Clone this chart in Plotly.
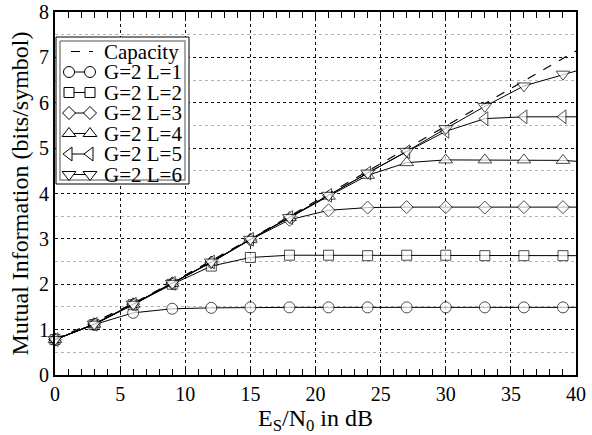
import plotly.graph_objects as go

# ---------------- data ----------------
snr_db = [0, 3, 6, 9, 12, 15, 18, 21, 24, 27, 30, 33, 36, 39, 40]
capacity = [0.79, 1.16, 1.58, 2.04, 2.52, 3.00, 3.50, 3.99, 4.49, 4.99, 5.48, 5.98, 6.48, 6.98, 7.14]
mi_L1 = [0.78, 1.11, 1.37, 1.46, 1.48, 1.49, 1.49, 1.49, 1.49, 1.49, 1.49, 1.49, 1.49, 1.49, 1.49]
mi_L2 = [0.78, 1.11, 1.55, 2.00, 2.40, 2.59, 2.64, 2.64, 2.63, 2.64, 2.64, 2.63, 2.63, 2.63, 2.63]
mi_L3 = [0.78, 1.12, 1.56, 2.02, 2.48, 2.98, 3.42, 3.63, 3.69, 3.70, 3.70, 3.69, 3.70, 3.70, 3.70]
mi_L4 = [0.78, 1.12, 1.56, 2.02, 2.49, 2.99, 3.47, 3.94, 4.40, 4.68, 4.74, 4.74, 4.74, 4.73, 4.71]
mi_L5 = [0.78, 1.12, 1.56, 2.02, 2.49, 2.99, 3.47, 3.96, 4.45, 4.92, 5.37, 5.65, 5.69, 5.69, 5.69]
mi_L6 = [0.78, 1.12, 1.56, 2.02, 2.49, 2.99, 3.47, 3.96, 4.45, 4.93, 5.43, 5.92, 6.37, 6.63, 6.70]

series_names = ["G=2 L=1", "G=2 L=2", "G=2 L=3", "G=2 L=4", "G=2 L=5", "G=2 L=6"]
series_values = [mi_L1, mi_L2, mi_L3, mi_L4, mi_L5, mi_L6]
symbols = ["circle", "square", "diamond", "triangle-up", "triangle-left", "triangle-down"]
sym_sizes = [11, 10, 10, 12, 12, 12]

x_ticks = [0, 5, 10, 15, 20, 25, 30, 35, 40]
y_ticks = [0, 1, 2, 3, 4, 5, 6, 7, 8]

FONT = "Liberation Serif, Times New Roman, serif"

fig = go.Figure()

fig.add_trace(go.Scatter(x=snr_db, y=capacity, mode="lines",
                         line=dict(color="black", width=1.2, dash="dash"),
                         showlegend=False, name="Capacity"))

# marker on every point except the final 40 dB sample
for name, vals, sym, sz in zip(series_names, series_values, symbols, sym_sizes):
    sizes = [sz] * (len(snr_db) - 1) + [0]
    fig.add_trace(go.Scatter(
        x=snr_db, y=vals, mode="lines+markers", name=name, showlegend=False,
        line=dict(color="black", width=1),
        marker=dict(symbol=sym, size=sizes, color="white",
                    line=dict(color="black", width=1)),
        cliponaxis=False))

# ---------------- manual legend on an overlay pixel axis ----------------
L_x0, L_x1, L_y0, L_y1 = 56, 189, 37, 184
fig.add_trace(go.Scatter(x=[L_x0, L_x1, L_x1, L_x0, L_x0], y=[L_y0, L_y0, L_y1, L_y1, L_y0],
                         mode="lines", fill="toself", fillcolor="white",
                         line=dict(color="black", width=1),
                         xaxis="x2", yaxis="y2", showlegend=False, hoverinfo="skip"))
fig.add_trace(go.Scatter(x=[L_x0 + 4, L_x1 - 4, L_x1 - 4, L_x0 + 4, L_x0 + 4],
                         y=[L_y0 + 4, L_y0 + 4, L_y1 - 4, L_y1 - 4, L_y0 + 4],
                         mode="lines", line=dict(color="#8a8a8a", width=1.5),
                         xaxis="x2", yaxis="y2", showlegend=False, hoverinfo="skip"))

row_y = [51.5, 72, 92.5, 113, 133.5, 154, 174.5]
legend_labels = ["Capacity"] + series_names
fig.add_trace(go.Scatter(x=[71, 93], y=[row_y[0], row_y[0]], mode="lines",
                         line=dict(color="black", width=1.2, dash="dash"),
                         xaxis="x2", yaxis="y2", showlegend=False, hoverinfo="skip"))
for i, (sym, sz) in enumerate(zip(symbols, sym_sizes)):
    yy = row_y[i + 1]
    fig.add_trace(go.Scatter(x=[69, 90], y=[yy, yy], mode="lines+markers",
                             line=dict(color="black", width=1),
                             marker=dict(symbol=sym, size=sz, color="white",
                                         line=dict(color="black", width=1)),
                             xaxis="x2", yaxis="y2", showlegend=False, hoverinfo="skip",
                             cliponaxis=False))
annotations = []
for yy, lab in zip(row_y, legend_labels):
    annotations.append(dict(x=102, y=yy, xref="x2", yref="y2", text=lab, showarrow=False,
                            xanchor="left", yanchor="middle",
                            font=dict(family=FONT, size=21, color="black")))

fig.update_layout(
    width=592, height=435,
    margin=dict(l=55, r=16, t=12, b=60),
    paper_bgcolor="white", plot_bgcolor="white",
    font=dict(family=FONT, size=20, color="black"),
    showlegend=False,
    annotations=annotations,
    xaxis=dict(range=[0, 40], tickvals=x_ticks, ticktext=[str(v) for v in x_ticks],
               showline=True, linecolor="black", linewidth=2, mirror="ticks",
               ticks="inside", ticklen=6, tickcolor="black", tickwidth=1,
               showgrid=True, gridcolor="#111", griddash="dot", gridwidth=1,
               zeroline=False, automargin=False,
               minor=dict(dtick=1, ticks="inside", ticklen=6, tickcolor="black", showgrid=False),
               title=dict(text="E<sub>S</sub>/N<sub>0</sub> in dB",
                          font=dict(family=FONT, size=24), standoff=2),
               tickfont=dict(family=FONT, size=20)),
    yaxis=dict(range=[0, 8], tickvals=y_ticks, ticktext=[str(v) for v in y_ticks],
               showline=True, linecolor="black", linewidth=2, mirror=True,
               ticks="", showgrid=True, gridcolor="#111", griddash="dot", gridwidth=1,
               zeroline=False, automargin=False,
               minor=dict(dtick=0.5, showgrid=True, gridcolor="#b5b5b5", griddash="dot", gridwidth=1),
               title=dict(text="Mutual Information (bits/symbol)",
                          font=dict(family=FONT, size=24), standoff=4),
               tickfont=dict(family=FONT, size=20)),
    xaxis2=dict(range=[55, 576], overlaying="x", visible=False, fixedrange=True),
    yaxis2=dict(range=[375, 12], overlaying="y", visible=False, fixedrange=True),
)

fig.write_html("out.html")
